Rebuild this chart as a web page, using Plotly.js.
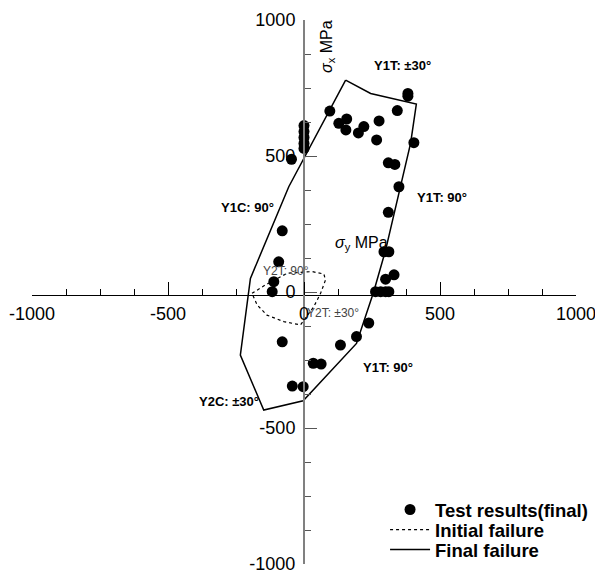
<!DOCTYPE html>
<html>
<head>
<meta charset="utf-8">
<script src="https://cdn.plot.ly/plotly-3.0.1.min.js"></script>
<style>html,body{margin:0;padding:0;background:#fff;}#chart{width:595px;height:572px;}</style>
</head>
<body>
<div id="chart"></div>
<script>
// Test results (final) : sigma_y (x), sigma_x (y), MPa
const testX = [95, 128, 157, 154, 200, 220, 276, 267, 343, 382, 382, 404, 310, 334, 349, 310, 294, 312, 300, 331, 263, 282, 300, 312, 0, 0, 0, 0, 0, -46, -80, -93, -111, -117, -80, 134, 193, 238, 34, 63, -43, -3];
const testY = [665, 620, 636, 596, 585, 608, 629, 559, 667, 730, 720, 549, 475, 469, 387, 293, 148, 148, 47, 63, 1, 1, 1, 1, 612, 590, 568, 546, 528, 488, 225, 111, 38, 1, -183, -195, -164, -114, -262, -265, -346, -348];

// Initial failure envelope (dotted)
const initX = [-191, -142, -62, 30, 73, 79, 61, 36, -13, -74, -136, -172, -191];
const initY = [-5, 26, 69, 75, 66, 44, -5, -54, -121, -109, -85, -48, -5];

// Final failure envelope (solid)
const finalX = [153, 245, 413, 392, 300, 256, 193, -3, -148, -234, -197, -56, 153];
const finalY = [779, 730, 691, 547, 154, 0, -189, -400, -434, -232, 50, 387, 779];

// Region labels
const labelText = ["Y1T: ±30°", "Y1T: 90°", "Y1C: 90°", "Y1T: 90°", "Y2C: ±30°"];
const labelX = [361, 506, -208, 310, -274];
const labelY = [831, 349, 309, -278, -401];
const label2Text = ["Y2T: 90°", "Y2T: ±30°"];
const label2X = [-65, 108];
const label2Y = [78, -78];

const tickVals = [-1000, -500, 0, 500, 1000];
const tickText = ["-1000", "-500", "0", "500", "1000"];

const FONT = "Liberation Sans, Arial, sans-serif";

const traces = [
  {x: testX, y: testY, type: 'scatter', mode: 'markers', name: 'Test results(final)', legend: 'legend',
   marker: {color: '#000', size: 11, symbol: 'circle'}},
  {x: initX, y: initY, type: 'scatter', mode: 'lines', name: 'Initial failure', legend: 'legend2',
   line: {color: '#000', width: 1.2, dash: 'dot'}},
  {x: finalX, y: finalY, type: 'scatter', mode: 'lines', name: 'Final failure', legend: 'legend3',
   line: {color: '#000', width: 1.5}}
];

const annotations = [];
labelText.forEach((t, i) => annotations.push({x: labelX[i], y: labelY[i], xref: 'x', yref: 'y', text: t,
  showarrow: false, font: {family: FONT, size: 13, color: '#000', weight: 'bold'}}));
label2Text.forEach((t, i) => annotations.push({x: label2X[i], y: label2Y[i], xref: 'x', yref: 'y', text: t,
  showarrow: false, font: {family: FONT, size: 12, color: '#444'}}));
annotations.push({x: 210, y: 180, xref: 'x', yref: 'y', text: '<i>σ</i><sub>y</sub> MPa', showarrow: false,
  font: {family: FONT, size: 16, color: '#000'}});
annotations.push({x: 84, y: 904, xref: 'x', yref: 'y', text: '<i>σ</i><sub>x</sub> MPa', showarrow: false,
  textangle: -90, font: {family: FONT, size: 16, color: '#000'}});

const legFont = {family: FONT, size: 18.5, color: '#000', weight: 'bold'};
function leg(y) {
  return {x: 0.649, y: y, xanchor: 'left', yanchor: 'middle', bgcolor: 'rgba(0,0,0,0)', borderwidth: 0,
    itemwidth: 40, font: legFont};
}

const layout = {
  width: 595, height: 572,
  margin: {l: 32, r: 19, t: 20, b: 8, pad: 0, autoexpand: false},
  paper_bgcolor: '#fff', plot_bgcolor: '#fff',
  showlegend: true,
  legend: leg(0.0993),
  legend2: leg(0.0625),
  legend3: leg(0.0257),
  xaxis: {range: [-1000, 1000], anchor: 'free', position: 0.4945, showgrid: false, zeroline: false,
    showline: true, linecolor: '#000', linewidth: 1,
    tickvals: tickVals, ticktext: tickText, ticks: 'inside', ticklen: 13, tickcolor: '#000', tickwidth: 1,
    minor: {dtick: 125, tick0: 0, ticks: 'inside', ticklen: 6, tickcolor: '#000', tickwidth: 1},
    tickfont: {family: FONT, size: 18, color: '#000'}, ticklabelstandoff: 2, ticklabeloverflow: 'allow',
    automargin: false, fixedrange: true},
  yaxis: {range: [-1000, 1000], anchor: 'free', position: 0.5, showgrid: false, zeroline: false,
    showline: true, linecolor: '#808080', linewidth: 2,
    tickvals: tickVals, ticktext: tickText, ticks: 'inside', ticklen: 12, tickcolor: '#555', tickwidth: 1,
    minor: {dtick: 125, tick0: 0, ticks: 'inside', ticklen: 6, tickcolor: '#555', tickwidth: 1},
    tickfont: {family: FONT, size: 18, color: '#000'}, ticklabelstandoff: 4, ticklabeloverflow: 'allow',
    automargin: false, fixedrange: true},
  annotations: annotations
};

Plotly.newPlot('chart', traces, layout, {displayModeBar: false, staticPlot: true});
</script>
</body>
</html>
